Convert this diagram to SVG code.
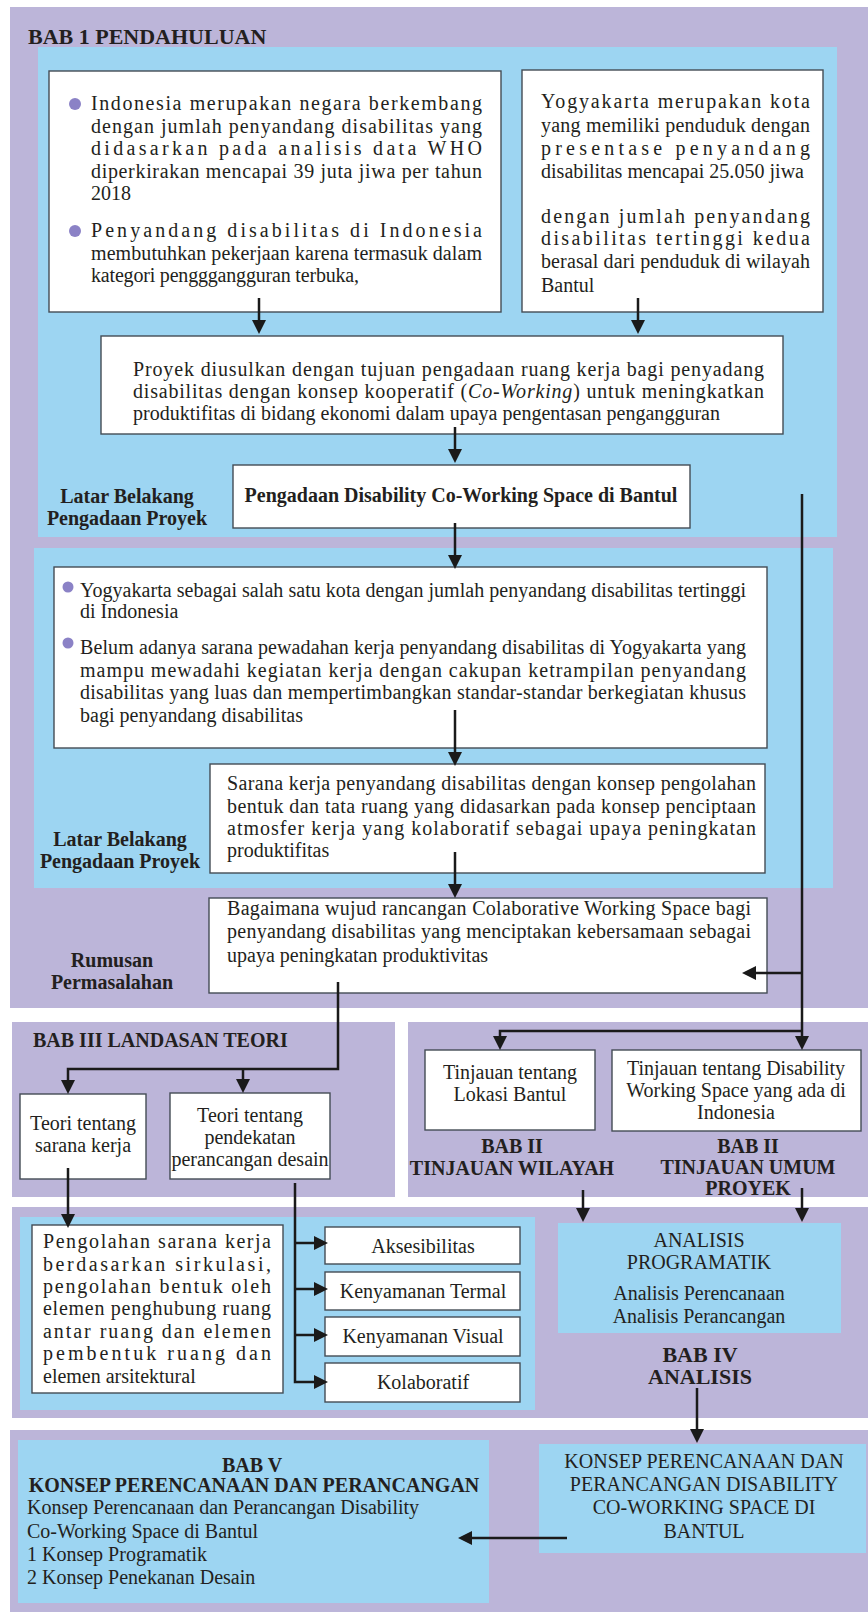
<svg xmlns="http://www.w3.org/2000/svg" width="868" height="1612" viewBox="0 0 868 1612">
<defs>
<style>
.sec{fill:#bcb5d9}
.pan{fill:#9dd5f2}
.box{fill:#ffffff;stroke:#444c55;stroke-width:1.4}
.t{font-family:"Liberation Serif","Times New Roman",serif;font-size:20px;fill:#231f20}
.b{font-weight:bold}
.c{text-anchor:middle}
.h{font-size:22px}
.ln{fill:none;stroke:#1a1a1a;stroke-width:2.5;marker-end:url(#ah)}
.bul{fill:#8b82c6}
</style>
<marker id="ah" markerUnits="userSpaceOnUse" markerWidth="14" markerHeight="14" refX="10" refY="7" orient="auto">
<path d="M0,0 L14,7 L0,14 Z" fill="#1a1a1a"/>
</marker>
</defs>
<rect width="868" height="1612" fill="#ffffff"/>

<g id="sections">
<rect class="sec" x="10" y="7" width="858" height="1001"/>
<rect class="sec" x="12" y="1022" width="383" height="175"/>
<rect class="sec" x="408" y="1022" width="460" height="175"/>
<rect class="sec" x="12" y="1207" width="856" height="211"/>
<rect class="sec" x="10" y="1430" width="858" height="182"/>
<rect class="pan" x="38" y="47" width="799" height="490"/>
<rect class="pan" x="34" y="548" width="799" height="340"/>
<rect class="pan" x="20" y="1217" width="515" height="193"/>
<rect class="pan" x="18" y="1440" width="471" height="163"/>
</g>

<g id="labels">
<text class="t b h" x="28" y="44">BAB 1 PENDAHULUAN</text>
<text class="t b c" x="127" y="503">Latar Belakang</text>
<text class="t b c" x="127" y="525">Pengadaan Proyek</text>
<text class="t b c" x="120" y="846">Latar Belakang</text>
<text class="t b c" x="120" y="868">Pengadaan Proyek</text>
<text class="t b c" x="112" y="967">Rumusan</text>
<text class="t b c" x="112" y="989">Permasalahan</text>
<text class="t b" x="33" y="1047">BAB III LANDASAN TEORI</text>
<text class="t b c" x="512" y="1153">BAB II</text>
<text class="t b c" x="512" y="1175">TINJAUAN WILAYAH</text>
<text class="t b c" x="748" y="1153">BAB II</text>
<text class="t b c" x="748" y="1174">TINJAUAN UMUM</text>
<text class="t b c" x="748" y="1195">PROYEK</text>
<text class="t b c h" x="700" y="1362">BAB IV</text>
<text class="t b c h" x="700" y="1384">ANALISIS</text>
</g>

<g id="node-latar1">
<rect class="box" x="49" y="71" width="452" height="241"/>
<circle class="bul" cx="75" cy="104" r="6"/>
<circle class="bul" cx="75" cy="231" r="6"/>
<text class="t" x="91" y="110" textLength="391" lengthAdjust="spacing">Indonesia merupakan negara berkembang</text>
<text class="t" x="91" y="133" textLength="391" lengthAdjust="spacing">dengan jumlah penyandang disabilitas yang</text>
<text class="t" x="91" y="155" textLength="391" lengthAdjust="spacing">didasarkan pada analisis data WHO</text>
<text class="t" x="91" y="178" textLength="391" lengthAdjust="spacing">diperkirakan mencapai 39 juta jiwa per tahun</text>
<text class="t" x="91" y="200">2018</text>
<text class="t" x="91" y="237" textLength="391" lengthAdjust="spacing">Penyandang disabilitas di Indonesia</text>
<text class="t" x="91" y="260" textLength="391" lengthAdjust="spacing">membutuhkan pekerjaan karena termasuk dalam</text>
<text class="t" x="91" y="282" textLength="268" lengthAdjust="spacing">kategori pengggangguran terbuka,</text>
</g>

<g id="node-latar2">
<rect class="box" x="522" y="70" width="301" height="242"/>
<text class="t" x="541" y="108" textLength="269" lengthAdjust="spacing">Yogyakarta merupakan kota</text>
<text class="t" x="541" y="132" textLength="269" lengthAdjust="spacing">yang memiliki penduduk dengan</text>
<text class="t" x="541" y="155" textLength="269" lengthAdjust="spacing">presentase penyandang</text>
<text class="t" x="541" y="178" textLength="263" lengthAdjust="spacing">disabilitas mencapai 25.050 jiwa</text>
<text class="t" x="541" y="223" textLength="269" lengthAdjust="spacing">dengan jumlah penyandang</text>
<text class="t" x="541" y="245" textLength="269" lengthAdjust="spacing">disabilitas tertinggi kedua</text>
<text class="t" x="541" y="268" textLength="269" lengthAdjust="spacing">berasal dari penduduk di wilayah</text>
<text class="t" x="541" y="292">Bantul</text>
</g>

<g id="node-proyek">
<rect class="box" x="101" y="336" width="682" height="98"/>
<text class="t" x="133" y="376" textLength="631" lengthAdjust="spacing">Proyek diusulkan dengan tujuan pengadaan ruang kerja bagi penyadang</text>
<text class="t" x="133" y="398" textLength="631" lengthAdjust="spacing">disabilitas dengan konsep kooperatif (<tspan font-style="italic">Co-Working</tspan>) untuk meningkatkan</text>
<text class="t" x="133" y="420" textLength="587" lengthAdjust="spacing">produktifitas di bidang ekonomi dalam upaya pengentasan pengangguran</text>
</g>

<g id="node-pengadaan">
<rect class="box" x="233" y="465" width="457" height="63"/>
<text class="t b c" x="461" y="502">Pengadaan Disability Co-Working Space di Bantul</text>
</g>

<g id="node-kondisi">
<rect class="box" x="54" y="567" width="713" height="181"/>
<circle class="bul" cx="68" cy="587" r="5.5"/>
<circle class="bul" cx="68" cy="643" r="5.5"/>
<text class="t" x="80" y="597" textLength="666" lengthAdjust="spacing">Yogyakarta sebagai salah satu kota dengan jumlah penyandang disabilitas tertinggi</text>
<text class="t" x="80" y="618">di Indonesia</text>
<text class="t" x="80" y="654" textLength="666" lengthAdjust="spacing">Belum adanya sarana pewadahan kerja penyandang disabilitas di Yogyakarta yang</text>
<text class="t" x="80" y="677" textLength="666" lengthAdjust="spacing">mampu mewadahi kegiatan kerja dengan cakupan ketrampilan penyandang</text>
<text class="t" x="80" y="699" textLength="666" lengthAdjust="spacing">disabilitas yang luas dan mempertimbangkan standar-standar berkegiatan khusus</text>
<text class="t" x="80" y="722" textLength="223" lengthAdjust="spacing">bagi penyandang disabilitas</text>
</g>

<g id="node-sarana">
<rect class="box" x="210" y="764" width="555" height="109"/>
<text class="t" x="227" y="790" textLength="529" lengthAdjust="spacing">Sarana kerja penyandang disabilitas dengan konsep pengolahan</text>
<text class="t" x="227" y="813" textLength="529" lengthAdjust="spacing">bentuk dan tata ruang yang didasarkan pada konsep penciptaan</text>
<text class="t" x="227" y="835" textLength="529" lengthAdjust="spacing">atmosfer kerja yang kolaboratif sebagai upaya peningkatan</text>
<text class="t" x="227" y="857">produktifitas</text>
</g>

<g id="node-rumusan">
<rect class="box" x="209" y="898" width="558" height="95"/>
<text class="t" x="227" y="915" textLength="524" lengthAdjust="spacing">Bagaimana wujud rancangan Colaborative Working Space bagi</text>
<text class="t" x="227" y="938" textLength="524" lengthAdjust="spacing">penyandang disabilitas yang menciptakan kebersamaan sebagai</text>
<text class="t" x="227" y="962">upaya peningkatan produktivitas</text>
</g>

<g id="node-teori-sarana">
<rect class="box" x="20" y="1094" width="126" height="85"/>
<text class="t c" x="83" y="1130">Teori tentang</text>
<text class="t c" x="83" y="1152">sarana kerja</text>
</g>

<g id="node-teori-pendekatan">
<rect class="box" x="170" y="1093" width="160" height="86"/>
<text class="t c" x="250" y="1122">Teori tentang</text>
<text class="t c" x="250" y="1144">pendekatan</text>
<text class="t c" x="250" y="1166">perancangan desain</text>
</g>

<g id="node-lokasi">
<rect class="box" x="425" y="1050" width="170" height="80"/>
<text class="t c" x="510" y="1079">Tinjauan tentang</text>
<text class="t c" x="510" y="1101">Lokasi Bantul</text>
</g>

<g id="node-tinjauan-umum">
<rect class="box" x="612" y="1050" width="249" height="81"/>
<text class="t c" x="736" y="1075">Tinjauan tentang Disability</text>
<text class="t c" x="736" y="1097">Working Space yang ada di</text>
<text class="t c" x="736" y="1119">Indonesia</text>
</g>

<g id="node-pengolahan">
<rect class="box" x="32" y="1225" width="251" height="168"/>
<text class="t" x="43" y="1248" textLength="228" lengthAdjust="spacing">Pengolahan sarana kerja</text>
<text class="t" x="43" y="1271" textLength="228" lengthAdjust="spacing">berdasarkan sirkulasi,</text>
<text class="t" x="43" y="1293" textLength="228" lengthAdjust="spacing">pengolahan bentuk oleh</text>
<text class="t" x="43" y="1315" textLength="228" lengthAdjust="spacing">elemen penghubung ruang</text>
<text class="t" x="43" y="1338" textLength="228" lengthAdjust="spacing">antar ruang dan elemen</text>
<text class="t" x="43" y="1360" textLength="228" lengthAdjust="spacing">pembentuk ruang dan</text>
<text class="t" x="43" y="1383">elemen arsitektural</text>
</g>

<g id="node-aksesibilitas">
<rect class="box" x="325" y="1227" width="195" height="37"/>
<text class="t c" x="423" y="1253">Aksesibilitas</text>
</g>
<g id="node-termal">
<rect class="box" x="325" y="1272" width="195" height="38"/>
<text class="t c" x="423" y="1298">Kenyamanan Termal</text>
</g>
<g id="node-visual">
<rect class="box" x="325" y="1317" width="195" height="39"/>
<text class="t c" x="423" y="1343">Kenyamanan Visual</text>
</g>
<g id="node-kolaboratif">
<rect class="box" x="325" y="1363" width="195" height="39"/>
<text class="t c" x="423" y="1389">Kolaboratif</text>
</g>

<g id="node-analisis">
<rect class="pan" x="558" y="1223" width="283" height="110"/>
<text class="t c" x="699" y="1247">ANALISIS</text>
<text class="t c" x="699" y="1269">PROGRAMATIK</text>
<text class="t c" x="699" y="1300">Analisis Perencanaan</text>
<text class="t c" x="699" y="1323">Analisis Perancangan</text>
</g>

<g id="node-konsep">
<rect class="pan" x="539" y="1444" width="327" height="109"/>
<text class="t c" x="704" y="1468">KONSEP PERENCANAAN DAN</text>
<text class="t c" x="704" y="1491">PERANCANGAN DISABILITY</text>
<text class="t c" x="704" y="1514">CO-WORKING SPACE DI</text>
<text class="t c" x="704" y="1538">BANTUL</text>
</g>

<g id="node-bab5">
<text class="t b c" x="252" y="1472">BAB V</text>
<text class="t b c" x="254" y="1492">KONSEP PERENCANAAN DAN PERANCANGAN</text>
<text class="t" x="27" y="1514">Konsep Perencanaan dan Perancangan Disability</text>
<text class="t" x="27" y="1538">Co-Working Space di Bantul</text>
<text class="t" x="27" y="1561">1 Konsep Programatik</text>
<text class="t" x="27" y="1584">2 Konsep Penekanan Desain</text>
</g>

<g id="connectors">
<path class="ln" d="M259,298 V330"/>
<path class="ln" d="M638,298 V330"/>
<path class="ln" d="M455,427 V459"/>
<path class="ln" d="M455,523 V565"/>
<path class="ln" d="M455,710 V762"/>
<path class="ln" d="M455,852 V894"/>
<path class="ln" d="M802,494 V1046"/>
<path class="ln" d="M802,973 H746"/>
<path class="ln" d="M802,1031 H500 V1046"/>
<path class="ln" d="M338,982 V1069 H68 V1090"/>
<path class="ln" d="M243,1069 V1089"/>
<path class="ln" d="M68,1168 V1224"/>
<path class="ln" d="M295,1183 V1382 H324"/>
<path class="ln" d="M295,1243 H324"/>
<path class="ln" d="M295,1289 H324"/>
<path class="ln" d="M295,1335 H324"/>
<path class="ln" d="M583,1190 V1218"/>
<path class="ln" d="M802,1188 V1218"/>
<path class="ln" d="M697,1388 V1439"/>
<path class="ln" d="M567,1538 H462"/>
</g>
</svg>
